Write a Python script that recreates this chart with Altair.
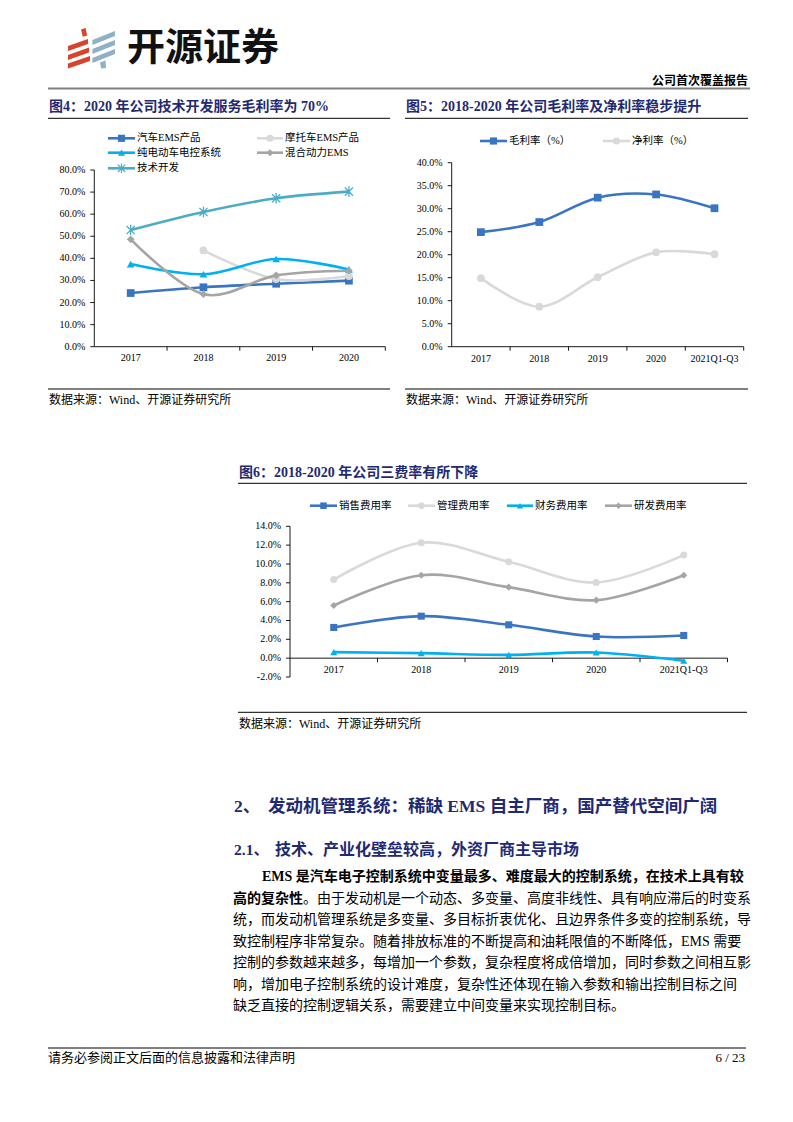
import altair as alt
import pandas as pd

MARGIN = 8
def cx(v): return v - MARGIN
def cy(v): return v - MARGIN

LATIN_CJK = "Liberation Serif, Noto Sans CJK SC"
SANS_CJK = "Noto Sans CJK SC"
NAVY = "#1F2A72"
BLUE = "#3A75C4"
LGRAY = "#D9D9D9"
CYAN = "#00B0F0"
GRAY = "#A5A5A5"
TEAL = "#4BACC6"

# ---------------- data ----------------
f4_categories = ["2017", "2018", "2019", "2020"]
f4_series = ["汽车EMS产品", "摩托车EMS产品", "纯电动车电控系统", "混合动力EMS", "技术开发"]
f4_car_ems = [24.3, 26.9, 28.5, 29.9]
f4_moto_ems = [None, 43.6, 30.6, 32.0]
f4_ev_control = [37.4, 32.8, 39.7, 35.0]
f4_hybrid_ems = [48.6, 23.8, 32.3, 34.4]
f4_tech_dev = [52.8, 61.0, 67.2, 70.2]
f4_ticks = [0, 10, 20, 30, 40, 50, 60, 70, 80]
f4_tick_labels = ["0.0%", "10.0%", "20.0%", "30.0%", "40.0%", "50.0%", "60.0%", "70.0%", "80.0%"]

f5_categories = ["2017", "2018", "2019", "2020", "2021Q1-Q3"]
f5_series = ["毛利率（%）", "净利率（%）"]
f5_gross_margin = [24.9, 27.1, 32.4, 33.1, 30.1]
f5_net_margin = [14.9, 8.7, 15.1, 20.5, 20.1]
f5_ticks = [0, 5, 10, 15, 20, 25, 30, 35, 40]
f5_tick_labels = ["0.0%", "5.0%", "10.0%", "15.0%", "20.0%", "25.0%", "30.0%", "35.0%", "40.0%"]

f6_categories = ["2017", "2018", "2019", "2020", "2021Q1-Q3"]
f6_series = ["销售费用率", "管理费用率", "财务费用率", "研发费用率"]
f6_selling = [3.26, 4.46, 3.54, 2.30, 2.41]
f6_admin = [8.35, 12.25, 10.23, 8.04, 10.94]
f6_finance = [0.64, 0.53, 0.35, 0.60, -0.28]
f6_rnd = [5.59, 8.81, 7.54, 6.16, 8.81]
f6_ticks = [-2, 0, 2, 4, 6, 8, 10, 12, 14]
f6_tick_labels = ["-2.0%", "0.0%", "2.0%", "4.0%", "6.0%", "8.0%", "10.0%", "12.0%", "14.0%"]

ASTERISK = "M-1,-1L1,1M-1,1L1,-1M0,-1.3L0,1.3"
TICK_DOWN = "M0,0L0,2"
TICK_LEFT = "M0,0L-2,0"


def figure(cats, names, values, colors, shapes, x0, x1, ymin, ymax, ybot, ytop,
           ticks, tick_labels, label_dy, legend, msize, lw):
    n = len(cats)
    xs = alt.Scale(domain=[-0.5, n - 0.5], range=[cx(x0), cx(x1)], nice=False, zero=False)
    ys = alt.Scale(domain=[ymin, ymax], range=[cy(ybot), cy(ytop)], nice=False, zero=False)
    cs = alt.Scale(domain=names, range=colors)
    ss = alt.Scale(domain=names, range=[s if s != "asterisk" else "circle" for s in shapes])
    col = alt.Color("s:N", scale=cs, legend=None)
    shp = alt.Shape("s:N", scale=ss, legend=None)
    star_names = [nm for nm, s in zip(names, shapes) if s == "asterisk"]

    rows = []
    for k, (nm, vals) in enumerate(zip(names, values)):
        for i, v in enumerate(vals):
            if v is not None:
                rows.append({"i": i, "s": nm, "v": v, "k": k})
    df = pd.DataFrame(rows)

    def X(f): return alt.X(f, scale=xs, axis=None)
    def Y(f): return alt.Y(f, scale=ys, axis=None)

    layers = []
    frame = pd.DataFrame({"xl": [-0.5], "xr": [n - 0.5], "yb": [ymin], "yt": [ymax], "y0": [0]})
    layers.append(alt.Chart(frame).mark_rule(color="#000", strokeWidth=0.9).encode(
        x=X("xl:Q"), y=Y("yb:Q"), y2="yt:Q"))
    layers.append(alt.Chart(frame).mark_rule(color="#000", strokeWidth=0.9).encode(
        x=X("xl:Q"), x2="xr:Q", y=Y("y0:Q")))
    bounds = pd.DataFrame({"b": [k + 0.5 for k in range(n)], "y0": [0] * n})
    layers.append(alt.Chart(bounds).mark_point(shape=TICK_DOWN, size=16, filled=False, color="#000",
                                               strokeWidth=0.9, opacity=1).encode(x=X("b:Q"), y=Y("y0:Q")))
    tdf = pd.DataFrame({"t": ticks, "lab": tick_labels, "xl": [-0.5] * len(ticks)})
    layers.append(alt.Chart(tdf).mark_point(shape=TICK_LEFT, size=16, filled=False, color="#000",
                                            strokeWidth=0.9, opacity=1).encode(x=X("xl:Q"), y=Y("t:Q")))
    layers.append(alt.Chart(tdf).mark_text(align="right", baseline="middle", dx=-9, font=LATIN_CJK,
                                           fontSize=10, color="#000").encode(x=X("xl:Q"), y=Y("t:Q"), text="lab:N"))
    cdf = pd.DataFrame({"i": list(range(n)), "c": cats, "y0": [0] * n})
    layers.append(alt.Chart(cdf).mark_text(align="center", baseline="middle", dy=label_dy, font=LATIN_CJK,
                                           fontSize=10, color="#000").encode(x=X("i:Q"), y=Y("y0:Q"), text="c:N"))

    # data lines + markers
    for k, nm in enumerate(names):
        sub = df[df["s"] == nm]
        layers.append(alt.Chart(sub).mark_line(interpolate="cardinal", tension=0, strokeWidth=lw).encode(
            x=X("i:Q"), y=Y("v:Q"), color=col))
        if nm in star_names:
            layers.append(alt.Chart(sub).mark_point(shape=ASTERISK, filled=False, opacity=1, size=msize * 1.1,
                                                    strokeWidth=1.3).encode(x=X("i:Q"), y=Y("v:Q"), color=col))
        else:
            layers.append(alt.Chart(sub).mark_point(filled=True, opacity=1, size=msize).encode(
                x=X("i:Q"), y=Y("v:Q"), color=col, shape=shp))

    # legend
    for nm, lx0, lx1, ly, tx in legend:
        ldf = pd.DataFrame({"s": [nm]})
        layers.append(alt.Chart(ldf).mark_rule(strokeWidth=lw).encode(
            x=alt.value(cx(lx0)), x2=alt.value(cx(lx1)), y=alt.value(cy(ly)), color=col))
        if nm in star_names:
            layers.append(alt.Chart(ldf).mark_point(shape=ASTERISK, filled=False, opacity=1, size=msize * 0.9,
                                                    strokeWidth=1.2).encode(
                x=alt.value(cx((lx0 + lx1) / 2)), y=alt.value(cy(ly)), color=col))
        else:
            layers.append(alt.Chart(ldf).mark_point(filled=True, opacity=1, size=msize * 0.85).encode(
                x=alt.value(cx((lx0 + lx1) / 2)), y=alt.value(cy(ly)), color=col, shape=shp))
        layers.append(alt.Chart(ldf).mark_text(align="left", baseline="middle", font=LATIN_CJK,
                                               fontSize=10.5, color="#000").encode(
            x=alt.value(cx(tx)), y=alt.value(cy(ly)), text="s:N"))
    return alt.layer(*layers)


fig4 = figure(
    f4_categories, f4_series,
    [f4_car_ems, f4_moto_ems, f4_ev_control, f4_hybrid_ems, f4_tech_dev],
    [BLUE, LGRAY, CYAN, GRAY, TEAL],
    ["square", "circle", "triangle-up", "diamond", "asterisk"],
    94.3, 385.3, 0, 80, 346.7, 170, f4_ticks, f4_tick_labels, 11.6,
    [(f4_series[0], 108, 135, 138.3, 137), (f4_series[1], 257, 283, 138.3, 285),
     (f4_series[2], 108, 135, 152.7, 137), (f4_series[3], 257, 283, 152.7, 285),
     (f4_series[4], 108, 135, 168.3, 137)],
    60, 2.6)

fig5 = figure(
    f5_categories, f5_series, [f5_gross_margin, f5_net_margin], [BLUE, LGRAY], ["square", "circle"],
    451.7, 743.7, 0, 40, 346.7, 162.7, f5_ticks, f5_tick_labels, 12.6,
    [(f5_series[0], 480, 507, 141, 509), (f5_series[1], 603, 630, 141, 632)],
    60, 2.6)

fig6 = figure(
    f6_categories, f6_series, [f6_selling, f6_admin, f6_finance, f6_rnd], [BLUE, LGRAY, CYAN, GRAY],
    ["square", "circle", "triangle-up", "diamond"],
    290, 727.5, -2, 14, 677, 526.3, f6_ticks, f6_tick_labels, 12,
    [(f6_series[0], 310, 337, 505.7, 339), (f6_series[1], 408, 435, 505.7, 437),
     (f6_series[2], 507, 533, 505.7, 535), (f6_series[3], 605, 632, 505.7, 634)],
    50, 2.6)


# ---------------- page decoration ----------------
def label(text, x, y, size, weight="normal", color="#000", align="left", font=LATIN_CJK):
    return alt.Chart(pd.DataFrame({"t": [text]})).mark_text(
        align=align, baseline="middle", font=font, fontSize=size, fontWeight=weight, color=color
    ).encode(x=alt.value(cx(x)), y=alt.value(cy(y)), text="t:N")


def hrule(x0, x1, y, color="#000", w=1.0):
    return alt.Chart(pd.DataFrame({"d": [0]})).mark_rule(color=color, strokeWidth=w).encode(
        x=alt.value(cx(x0)), x2=alt.value(cx(x1)), y=alt.value(cy(y)))


def logo_piece(path, color, x, y, size):
    return alt.Chart(pd.DataFrame({"d": [0]})).mark_point(
        shape=path, filled=True, color=color, opacity=1, size=size, strokeWidth=0
    ).encode(x=alt.value(cx(x)), y=alt.value(cy(y)))


RED = "#D8432C"
STEEL = "#8EB1C6"
logo_red = ("M0.05,-0.92L0.28,-1.0L0.36,-0.62L0.14,-0.56Z"
            "M-0.6,-0.1L0.4,-0.45L0.4,-0.2L-0.6,0.15Z"
            "M-0.6,0.35L0.45,-0.02L0.45,0.23L-0.6,0.6Z"
            "M-0.6,0.78L0.5,0.4L0.5,0.65L-0.6,1.02Z")
logo_steel = ("M0.62,-0.4L1.75,-0.85L1.75,-0.6L0.62,-0.15Z"
              "M0.62,0.05L1.75,-0.4L1.75,-0.15L0.62,0.3Z"
              "M0.62,0.5L1.75,0.05L1.75,0.3L0.62,0.75Z"
              "M1.0,0.72L1.28,0.62L1.3,1.0L1.06,1.02Z")

decor = [
    logo_piece(logo_red, RED, 80, 48, 1600),
    logo_piece(logo_steel, STEEL, 80, 48, 1600),
    label("开源证券", 127, 49, 38, "bold", "#111", font=SANS_CJK),
    label("公司首次覆盖报告", 748, 81, 12, "bold", "#000", align="right"),
    hrule(48, 750, 88.5, "#808080", 2),

    label("图4：2020 年公司技术开发服务毛利率为 70%", 49, 107, 14, "bold", NAVY),
    hrule(48, 390, 118.3, "#000", 1),
    hrule(48, 390, 389, "#000", 1),
    label("数据来源：Wind、开源证券研究所", 49, 400, 12),

    label("图5：2018-2020 年公司毛利率及净利率稳步提升", 406, 107, 14, "bold", NAVY),
    hrule(405, 748, 118.3, "#000", 1),
    hrule(405, 748, 389, "#000", 1),
    label("数据来源：Wind、开源证券研究所", 406, 400, 12),

    label("图6：2018-2020 年公司三费率有所下降", 239, 473.3, 14, "bold", NAVY),
    hrule(238, 747, 483.3, "#000", 1),
    hrule(238, 747, 712.3, "#000", 1),
    label("数据来源：Wind、开源证券研究所", 239, 724.3, 12),

    label("2、", 234, 807, 17.5, "bold", NAVY),
    label("发动机管理系统：稀缺 EMS 自主厂商，国产替代空间广阔", 268, 807, 17.5, "bold", NAVY),
    label("2.1、", 234, 849.5, 15.5, "bold", NAVY),
    label("技术、产业化壁垒较高，外资厂商主导市场", 275, 849.5, 16, "bold", NAVY),

    label("EMS 是汽车电子控制系统中变量最多、难度最大的控制系统，在技术上具有较", 262, 877, 14, "bold"),
    label("高的复杂性", 233, 898.5, 14, "bold"),
    label("。由于发动机是一个动态、多变量、高度非线性、具有响应滞后的时变系", 303, 898.5, 14),
    label("统，而发动机管理系统是多变量、多目标折衷优化、且边界条件多变的控制系统，导", 233, 920, 14),
    label("致控制程序非常复杂。随着排放标准的不断提高和油耗限值的不断降低，EMS 需要", 233, 941.5, 14),
    label("控制的参数越来越多，每增加一个参数，复杂程度将成倍增加，同时参数之间相互影", 233, 963, 14),
    label("响，增加电子控制系统的设计难度，复杂性还体现在输入参数和输出控制目标之间", 233, 984.5, 14),
    label("缺乏直接的控制逻辑关系，需要建立中间变量来实现控制目标。", 233, 1006, 14),

    hrule(48, 746, 1048, "#000", 1),
    label("请务必参阅正文后面的信息披露和法律声明", 48, 1058, 13),
    label("6 / 23", 745, 1058, 13, align="right"),
]

chart = alt.layer(fig4, fig5, fig6, *decor).resolve_scale(
    x="independent", y="independent", color="independent", shape="independent"
).properties(
    width=777, height=1106, autosize=alt.AutoSizeParams(type="none"), padding=0, background="white"
).configure_view(stroke=None)

chart.save("out.html", embed_options={"renderer": "svg", "actions": False})
